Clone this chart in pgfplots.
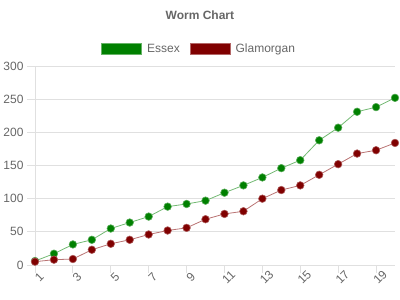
\documentclass[border=0pt]{standalone}
\usepackage{fontspec}
\setmainfont{Liberation Sans}
\usepackage{pgfplots}
\pgfplotsset{compat=1.18}
\definecolor{txt}{HTML}{666666}
\definecolor{gridc}{HTML}{E0E0E0}
\definecolor{essex}{HTML}{008000}
\definecolor{glam}{HTML}{800000}
\begin{document}
\begin{tikzpicture}
\useasboundingbox (0,0) rectangle (400pt,300pt);
\begin{axis}[
  at={(35pt,35pt)}, anchor=south west,
  scale only axis, width=360pt, height=199pt,
  xmin=1, xmax=20, ymin=0, ymax=300,
  xtick={1,3,...,19}, ytick={0,50,...,300},
  ymajorgrids, grid style={gridc, line width=0.8pt},
  axis x line*=bottom, axis y line*=left,
  axis line style={draw=gridc, line width=0.8pt, -},
  tick align=outside, major tick length=8pt,
  tick style={draw=gridc, line width=0.8pt},
  font=\fontsize{12}{14}\selectfont,
  ticklabel style={text=txt},
  /pgf/number format/assume math mode=true,
  xticklabel style={rotate=45, anchor=center, yshift=-6pt},
  title={\textbf{Worm Chart}},
  title style={at={(axis description cs:0.458,1.225)}, anchor=center, text=txt, font=\fontsize{12}{14}\selectfont},
  legend style={at={(axis description cs:0.456,1.085)}, anchor=center, draw=none, fill=none,
    legend columns=2, text=txt, font=\fontsize{12}{14}\selectfont,
    /tikz/every odd column/.append style={column sep=3pt},
    /tikz/every even column/.append style={column sep=8pt}},
]
\addplot[color=essex!55!white, line width=0.8pt, mark=*, mark size=3.8pt,
  mark options={fill=essex, draw=essex!65!white, line width=0.6pt},
  legend image code/.code={\draw[fill=essex, draw=essex!60!white, line width=0.8pt] (0pt,-5.5pt) rectangle (40pt,5.5pt);}]
coordinates {(1,6)(2,17)(3,31)(4,38)(5,55)(6,64)(7,73)(8,88)(9,92)(10,97)(11,109)(12,120)(13,132)(14,146)(15,158)(16,188)(17,207)(18,231)(19,238)(20,252)};
\addlegendentry{Essex}
\addplot[color=glam!55!white, line width=0.8pt, mark=*, mark size=3.8pt,
  mark options={fill=glam, draw=glam!65!white, line width=0.6pt},
  legend image code/.code={\draw[fill=glam, draw=glam!60!white, line width=0.8pt] (0pt,-5.5pt) rectangle (40pt,5.5pt);}]
coordinates {(1,5)(2,8)(3,9)(4,23)(5,32)(6,38)(7,46)(8,52)(9,56)(10,69)(11,77)(12,81)(13,100)(14,113)(15,120)(16,136)(17,152)(18,168)(19,173)(20,184)};
\addlegendentry{Glamorgan}
\end{axis}
\end{tikzpicture}
\end{document}
